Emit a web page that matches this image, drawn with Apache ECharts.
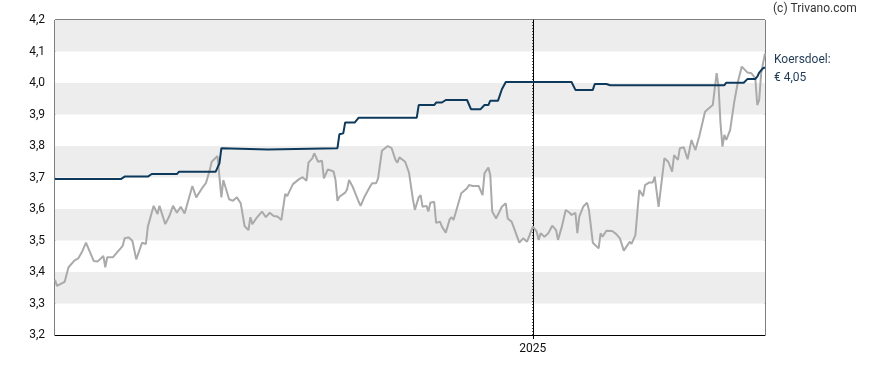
<!DOCTYPE html>
<html>
<head>
<meta charset="utf-8">
<script src="https://cdn.jsdelivr.net/npm/echarts@6/dist/echarts.min.js"></script>
<style>html,body{margin:0;padding:0;background:#fff}#c{width:888px;height:370px}</style>
</head>
<body>
<div id="c"></div>
<script>
// x values: days relative to 2025-01-01
const priceDays = [-247,-246,-242,-241,-240,-239,-237,-235,-233,-231,-227,-226,-225,-222,-221,-220,-217,-212,-211,-209,-207,-205,-202,-200,-199,-196,-194,-193,-192,-190,-188,-186,-184,-182,-180,-176,-174,-171,-169,-167,-166,-163,-162,-161,-160,-159,-157,-155,-153,-151,-149,-147,-146,-145,-143,-140,-138,-136,-134,-132,-130,-128,-127,-124,-123,-121,-119,-118,-117,-116,-114,-113,-111,-109,-108,-106,-105,-103,-102,-101,-100,-97,-96,-95,-93,-92,-90,-89,-87,-84,-83,-81,-80,-78,-75,-73,-71,-70,-69,-66,-64,-62,-61,-59,-58,-57,-55,-54,-53,-51,-50,-48,-47,-45,-43,-42,-41,-39,-37,-36,-34,-33,-31,-30,-28,-26,-25,-23,-22,-21,-19,-18,-16,-14,-13,-11,-10,-7,-5,-4,-3,-1,0,2,3,4,6,8,9,10,12,13,15,17,19,20,22,23,24,26,28,29,31,32,34,35,36,38,41,43,45,47,49,50,51,53,55,57,58,60,62,63,65,66,68,70,72,73,75,76,78,80,82,84,86,89,91,93,95,96,97,98,99,100,102,104,106,108,109,111,113,115,116,117,118,120];
const priceValues = [3.375,3.356,3.369,3.375,3.415,3.409,3.436,3.443,3.464,3.493,3.435,3.440,3.433,3.451,3.415,3.447,3.447,3.483,3.507,3.510,3.499,3.440,3.493,3.489,3.544,3.610,3.584,3.610,3.605,3.552,3.576,3.610,3.588,3.607,3.586,3.673,3.637,3.666,3.682,3.724,3.750,3.768,3.771,3.637,3.692,3.687,3.631,3.626,3.637,3.618,3.546,3.533,3.574,3.552,3.570,3.592,3.574,3.588,3.578,3.576,3.565,3.648,3.641,3.679,3.684,3.694,3.701,3.703,3.690,3.747,3.761,3.777,3.750,3.753,3.697,3.726,3.732,3.719,3.692,3.626,3.639,3.652,3.663,3.692,3.669,3.671,3.623,3.610,3.639,3.673,3.682,3.682,3.697,3.785,3.800,3.793,3.756,3.747,3.764,3.750,3.715,3.631,3.597,3.637,3.644,3.607,3.610,3.592,3.620,3.623,3.556,3.560,3.544,3.525,3.567,3.574,3.565,3.607,3.650,3.644,3.666,3.676,3.673,3.679,3.673,3.644,3.713,3.732,3.708,3.592,3.570,3.565,3.607,3.618,3.570,3.560,3.544,3.493,3.507,3.512,3.496,3.528,3.544,3.528,3.502,3.523,3.512,3.523,3.521,3.547,3.533,3.502,3.544,3.597,3.588,3.581,3.588,3.523,3.576,3.607,3.620,3.597,3.493,3.489,3.475,3.523,3.512,3.531,3.530,3.521,3.507,3.468,3.486,3.496,3.489,3.517,3.660,3.641,3.676,3.684,3.684,3.703,3.607,3.602,3.761,3.750,3.719,3.771,3.756,3.793,3.796,3.758,3.819,3.787,3.830,3.909,3.920,3.930,4.031,3.988,3.872,3.798,3.835,3.819,3.851,3.936,4.004,4.052,4.057,4.033,4.031,4.015,3.930,3.946,4.031,4.094];
const targetDays = [-247,-213,-211,-199,-197,-184,-183,-164,-162,-161,-160,-137,-136,-101,-100,-98,-97,-92,-90,-60,-59,-51,-50,-47,-45,-34,-32,-27,-25,-23,-22,-18,-16,-14,20,22,31,32,38,40,99,100,109,111,115,116,117,119,120];
const targetValues = [3.695,3.695,3.703,3.703,3.711,3.711,3.718,3.718,3.745,3.793,3.789,3.789,3.793,3.793,3.837,3.840,3.875,3.875,3.890,3.890,3.930,3.930,3.938,3.938,3.946,3.946,3.917,3.917,3.930,3.930,3.944,3.944,3.980,4.003,4.003,3.978,3.978,3.997,3.997,3.993,3.993,4.001,4.001,4.013,4.013,4.020,4.033,4.047,4.049];
const yearTickDays = [0];
const yearTickLabels = ['2025'];
const yRange = [3.2, 4.2];
const targetLabel = ['Koersdoel:', '€ 4,05'];
const copyright = '(c) Trivano.com';

const zip = (a, b) => a.map((d, i) => [d, b[i]]);
const chart = echarts.init(document.getElementById('c'), null, {renderer: 'canvas'});
const font = 'Roboto, "Noto Sans", sans-serif';
chart.setOption({
  animation: false,
  textStyle: {fontFamily: font},
  grid: {left: 55, top: 20, right: 123, bottom: 35, show: true, borderColor: '#000', borderWidth: 1, backgroundColor: 'transparent'},
  xAxis: {
    type: 'value', min: -247, max: 120,
    axisLine: {show: true, lineStyle: {color: '#000', width: 1}},
    axisTick: {show: true, length: 4, customValues: yearTickDays, lineStyle: {color: '#000'}},
    axisLabel: {color: '#111', fontSize: 12, fontFamily: font, margin: 8, customValues: yearTickDays,
      formatter: v => yearTickLabels[yearTickDays.indexOf(v)] || ''},
    splitLine: {show: false}
  },
  yAxis: {
    type: 'value', min: yRange[0], max: yRange[1], interval: 0.1,
    axisLine: {show: true, lineStyle: {color: '#000', width: 1}},
    axisTick: {show: false},
    axisLabel: {color: '#111', fontSize: 12, fontFamily: font, margin: 10,
      formatter: v => v.toFixed(1).replace('.', ',')},
    splitLine: {show: false},
    splitArea: {show: true, areaStyle: {color: ['#ffffff', '#ededed']}}
  },
  graphic: [
    {type: 'text', left: 773, top: 3, style: {text: copyright, fill: '#333', font: '12px ' + font}},
    {type: 'text', left: 774, top: 54, style: {text: targetLabel[0], fill: '#1f3a55', font: '12px ' + font}},
    {type: 'text', left: 774, top: 72, style: {text: targetLabel[1], fill: '#1f3a55', font: '12px ' + font}}
  ],
  series: [
    {type: 'line', data: yRange.map(v => [yearTickDays[0], v]), symbol: 'none', silent: true,
      lineStyle: {color: '#000', type: [1, 2], width: 1}, z: 1},
    {type: 'line', data: zip(priceDays, priceValues), symbol: 'none', smooth: false,
      lineStyle: {color: '#aaaaaa', width: 2}, z: 2},
    {type: 'line', data: zip(targetDays, targetValues), symbol: 'none', smooth: false,
      lineStyle: {color: '#0d3a5c', width: 2}, z: 3}
  ]
});
</script>
</body>
</html>
